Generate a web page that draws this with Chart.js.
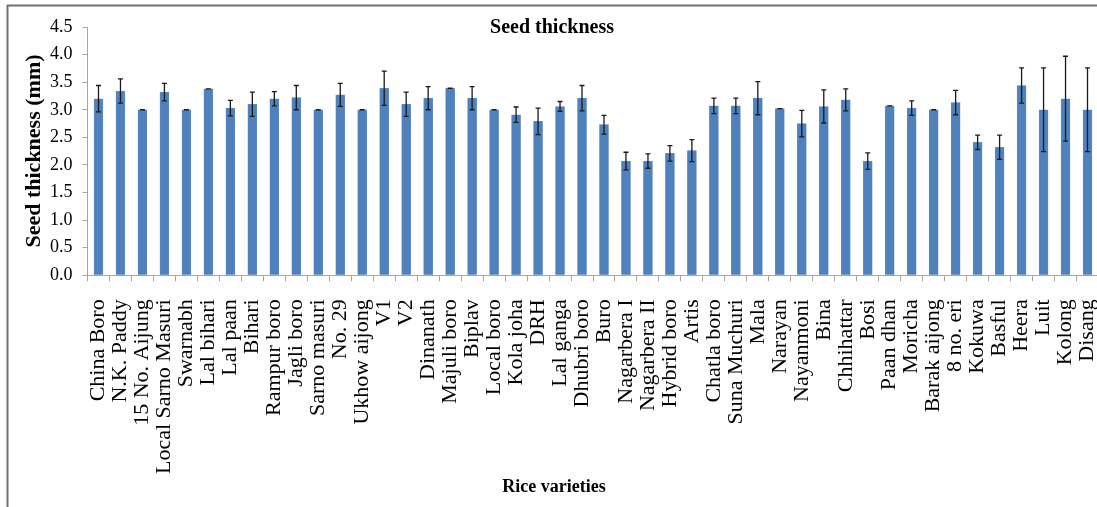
<!DOCTYPE html>
<html>
<head>
<meta charset="utf-8">
<title>Seed thickness</title>
<script src="https://cdn.jsdelivr.net/npm/chart.js@4"></script>
<style>
  html, body { margin: 0; padding: 0; background: #fff; overflow: hidden; }
  #wrap { width: 1112px; height: 507px; }
</style>
</head>
<body>
<div id="wrap"><canvas id="seedChart" width="1112" height="507"></canvas></div>
<script>
// rice varieties on the x axis
const varieties = ['China Boro', 'N.K. Paddy', '15 No. Aijung', 'Local Sarno Masuri', 'Swarnabh',
    'Lal bihari', 'Lal paan', 'Bihari', 'Rampur boro', 'Jagli boro', 'Sarno masuri', 'No. 29',
    'Ukhow aijong', 'V1', 'V2', 'Dinanath', 'Majuli boro', 'Biplav', 'Local boro', 'Kola joha',
    'DRH', 'Lal ganga', 'Dhubri boro', 'Buro', 'Nagarbera I', 'Nagarbera II', 'Hybrid boro',
    'Artis', 'Chatla boro', 'Suna Muchuri', 'Mala', 'Narayan', 'Nayanmoni', 'Bina', 'Chhihattar',
    'Bosi', 'Paan dhan', 'Moricha', 'Barak aijong', '8 no. eri', 'Kokuwa', 'Basful', 'Heera',
    'Luit', 'Kolong', 'Disang'];

// mean seed thickness (mm)
const thickness = [3.20, 3.34, 3.00, 3.32, 3.00, 3.38, 3.03, 3.10, 3.20, 3.22, 3.00, 3.27,
    3.00, 3.39, 3.10, 3.21, 3.39, 3.21, 3.00, 2.91, 2.79, 3.06, 3.21, 2.73, 2.07, 2.07, 2.21,
    2.26, 3.07, 3.07, 3.21, 3.02, 2.75, 3.06, 3.18, 2.07, 3.07, 3.03, 3.00, 3.13, 2.41, 2.32,
    3.44, 3.00, 3.20, 3.00];

// standard deviation (error bars)
const errors = [0.24, 0.22, 0, 0.16, 0, 0, 0.14, 0.22, 0.13, 0.22, 0, 0.21,
    0, 0.31, 0.22, 0.21, 0, 0.21, 0, 0.14, 0.24, 0.09, 0.23, 0.17, 0.16, 0.13, 0.14,
    0.20, 0.14, 0.14, 0.30, 0, 0.24, 0.30, 0.20, 0.15, 0, 0.13, 0, 0.22, 0.13, 0.22,
    0.32, 0.76, 0.77, 0.76];

const yTicks = [0, 0.5, 1.0, 1.5, 2.0, 2.5, 3.0, 3.5, 4.0, 4.5];

const serif = "'Liberation Serif', 'Times New Roman', serif";

// frame, titles and error bars
const extras = {
    id: 'extras',
    beforeDraw(chart) {
        const ctx = chart.ctx;
        ctx.save();
        ctx.strokeStyle = '#707070';
        ctx.lineWidth = 2;
        ctx.beginPath();
        ctx.moveTo(7.5, 520);
        ctx.lineTo(7.5, 5.5);
        ctx.lineTo(1200, 5.5);
        ctx.stroke();
        ctx.restore();
    },
    afterDatasetsDraw(chart) {
        const ctx = chart.ctx;
        const y = chart.scales.y;
        const meta = chart.getDatasetMeta(0);
        ctx.save();
        ctx.strokeStyle = '#1a1a1a';
        ctx.lineWidth = 1.3;
        meta.data.forEach((bar, i) => {
            const top = y.getPixelForValue(thickness[i] + errors[i]);
            const bot = y.getPixelForValue(thickness[i] - errors[i]);
            ctx.beginPath();
            ctx.moveTo(bar.x, top);
            ctx.lineTo(bar.x, bot);
            ctx.moveTo(bar.x - 2.5, top);
            ctx.lineTo(bar.x + 2.5, top);
            ctx.moveTo(bar.x - 2.5, bot);
            ctx.lineTo(bar.x + 2.5, bot);
            ctx.stroke();
        });
        ctx.restore();
    },
    afterDraw(chart) {
        const ctx = chart.ctx;
        ctx.save();
        ctx.fillStyle = '#000';
        ctx.textAlign = 'center';
        ctx.textBaseline = 'alphabetic';
        ctx.font = 'bold 20px ' + serif;
        ctx.fillText('Seed thickness', 552, 33);
        ctx.font = 'bold 18px ' + serif;
        ctx.fillText('Rice varieties', 554, 492);
        ctx.translate(34, 151);
        ctx.rotate(-Math.PI / 2);
        ctx.textBaseline = 'middle';
        ctx.font = 'bold 22px ' + serif;
        ctx.fillText('Seed thickness (mm)', 0, 0);
        ctx.restore();
    }
};

new Chart(document.getElementById('seedChart').getContext('2d'), {
    type: 'bar',
    data: {
        labels: varieties,
        datasets: [{
            label: 'Seed thickness (mm)',
            data: thickness,
            backgroundColor: '#4F81BD',
            borderColor: '#6f98c9',
            borderWidth: 0.5,
            barThickness: 9
        }]
    },
    options: {
        responsive: false,
        animation: false,
        layout: { padding: { left: 0, right: 13.5, top: 27, bottom: 0 } },
        plugins: {
            legend: { display: false },
            title: { display: false },
            tooltip: { enabled: false }
        },
        scales: {
            x: {
                grid: {
                    offset: true,
                    drawOnChartArea: false,
                    drawTicks: true,
                    tickLength: 6,
                    color: '#a6a6a6'
                },
                border: { color: '#a6a6a6', width: 1 },
                ticks: {
                    autoSkip: false,
                    minRotation: 90,
                    maxRotation: 90,
                    padding: 18,
                    color: '#000',
                    font: { family: serif, size: 22 }
                },
                afterFit(scale) {
                    scale.height = 231.7;
                    scale.paddingLeft = 0;
                    scale.paddingRight = 0;
                }
            },
            y: {
                min: 0,
                max: 4.5,
                grid: {
                    drawOnChartArea: false,
                    drawTicks: true,
                    tickLength: 5,
                    color: '#a6a6a6'
                },
                border: { color: '#a6a6a6', width: 1 },
                afterBuildTicks(scale) {
                    scale.ticks = yTicks.map(v => ({ value: v }));
                },
                ticks: {
                    padding: 10,
                    color: '#000',
                    font: { family: serif, size: 18 },
                    callback: v => Number(v).toFixed(1)
                },
                afterFit(scale) { scale.width = 87.5; }
            }
        }
    },
    plugins: [extras]
});
</script>
</body>
</html>
